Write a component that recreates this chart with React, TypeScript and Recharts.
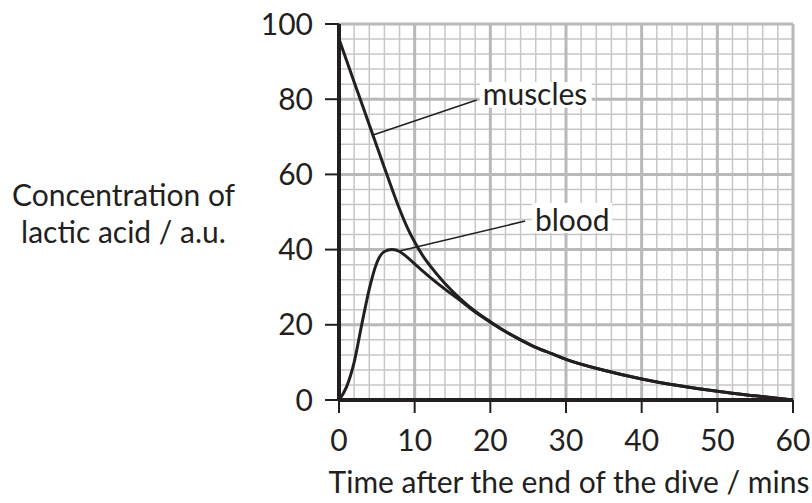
import React from 'react'
import {
  CartesianGrid,
  Label,
  Line,
  LineChart,
  ReferenceArea,
  ReferenceLine,
  XAxis,
  YAxis,
} from 'recharts'

const INK = '#231f20'
const FONT = 'Lato, "Open Sans", sans-serif'

// lactic acid in muscles
const muscleTime = [0, 1, 2, 3, 4, 5, 6, 7, 8, 9, 10, 11, 12, 14, 16, 18, 20, 22, 24, 26, 28, 30, 35, 40, 45, 50, 55, 60]
const muscleValue = [96, 90.3, 84.6, 78.9, 73.2, 67.5, 61.8, 56.2, 50.8, 46, 42, 38.6, 35.8, 31, 27, 23.6, 20.8, 18.2, 16, 14, 12.4, 10.8, 7.9, 5.6, 3.8, 2.3, 1.1, 0]

// lactic acid in blood
const bloodTime = [0, 1, 2, 3, 4, 5, 6, 7, 8, 9, 10, 11, 12, 14, 16, 18, 20, 22, 24, 26, 28, 30, 35, 40, 45, 50, 55, 60]
const bloodValue = [0, 3.5, 10, 20, 29.5, 36.5, 39.5, 40, 39.5, 38, 36.2, 34.4, 32.7, 29.5, 26.5, 23.4, 20.7, 18.2, 16, 14, 12.4, 10.8, 7.9, 5.6, 3.8, 2.3, 1.1, 0]

const xTicks = [0, 10, 20, 30, 40, 50, 60]
const yTicks = [0, 20, 40, 60, 80, 100]
const xMinor = Array.from({ length: 31 }, (_, i) => i * 2)
const yMinor = Array.from({ length: 26 }, (_, i) => i * 4)

const muscles = muscleTime.map((t, i) => ({ t, v: muscleValue[i] }))
const blood = bloodTime.map((t, i) => ({ t, v: bloodValue[i] }))

const vGen = (vals: number[]) => (p: any) =>
  vals.map((v) =>
    typeof p.xAxis?.scale === 'function'
      ? p.xAxis.scale(v)
      : p.offset.left + (v / 60) * p.offset.width,
  )
const hGen = (vals: number[]) => (p: any) =>
  vals.map((v) =>
    typeof p.yAxis?.scale === 'function'
      ? p.yAxis.scale(v)
      : p.offset.top + (1 - v / 100) * p.offset.height,
  )

const boxLabel = (text: string, dx: number, dyFromBottom: number) => (props: any) => {
  const { x, y, height } = props.viewBox
  return (
    <text x={x + dx} y={y + height - dyFromBottom} fill={INK} fontSize={30} fontFamily={FONT}>
      {text}
    </text>
  )
}

export default function App() {
  return (
    <div style={{ position: 'absolute', left: 0, top: 0, width: 812, height: 503, background: '#fff' }}>
      <LineChart
        width={812}
        height={503}
        margin={{ top: 24, right: 19, left: 279, bottom: 63 }}
      >
        <CartesianGrid
          stroke="#c6c7c9"
          strokeWidth={1.5}
          fill="none"
          verticalCoordinatesGenerator={vGen(xMinor)}
          horizontalCoordinatesGenerator={hGen(yMinor)}
        />
        <CartesianGrid
          stroke="#b8b9bb"
          strokeWidth={3}
          fill="none"
          verticalCoordinatesGenerator={vGen(xTicks)}
          horizontalCoordinatesGenerator={hGen(yTicks)}
        />
        <XAxis
          dataKey="t"
          type="number"
          domain={[0, 60]}
          ticks={xTicks}
          height={40}
          tickSize={13}
          tickMargin={17}
          axisLine={{ stroke: INK, strokeWidth: 4 }}
          tickLine={{ stroke: INK, strokeWidth: 2 }}
          tick={{ fill: INK, fontSize: 30, fontFamily: FONT }}
          allowDuplicatedCategory={false}
        >
          <Label
            content={() => (
              <text x={569} y={493} textAnchor="middle" fill={INK} fontSize={30} fontFamily={FONT}>
                Time after the end of the dive / mins
              </text>
            )}
          />
        </XAxis>
        <YAxis
          type="number"
          domain={[0, 100]}
          ticks={yTicks}
          width={60}
          tickSize={14}
          tickMargin={12}
          axisLine={{ stroke: INK, strokeWidth: 4 }}
          tickLine={{ stroke: INK, strokeWidth: 2 }}
          tick={{ fill: INK, fontSize: 30, fontFamily: FONT }}
        >
          <Label
            content={() => (
              <text textAnchor="middle" fill={INK} fontSize={30} fontFamily={FONT}>
                <tspan x={123.5} y={206}>Concentration of</tspan>
                <tspan x={123.5} y={243}>lactic acid / a.u.</tspan>
              </text>
            )}
          />
        </YAxis>
        <ReferenceArea
          x1={18.6}
          x2={33.4}
          y1={77.7}
          y2={84.6}
          fill="#fff"
          fillOpacity={1}
          stroke="none"
          label={boxLabel('muscles', 3, 3)}
        />
        <ReferenceArea
          x1={25.5}
          x2={36.1}
          y1={44.4}
          y2={52.4}
          fill="#fff"
          fillOpacity={1}
          stroke="none"
          label={boxLabel('blood', 3, 2)}
        />
        <ReferenceLine
          segment={[{ x: 4.5, y: 70.5 }, { x: 18.2, y: 79.8 }]}
          stroke={INK}
          strokeWidth={1.5}
        />
        <ReferenceLine
          segment={[{ x: 8, y: 39.6 }, { x: 24.6, y: 47.6 }]}
          stroke={INK}
          strokeWidth={1.5}
        />
        <Line
          data={muscles}
          dataKey="v"
          type="monotone"
          stroke={INK}
          strokeWidth={3}
          dot={false}
          activeDot={false}
          isAnimationActive={false}
        />
        <Line
          data={blood}
          dataKey="v"
          type="monotone"
          stroke={INK}
          strokeWidth={3}
          dot={false}
          activeDot={false}
          isAnimationActive={false}
        />
      </LineChart>
    </div>
  )
}
